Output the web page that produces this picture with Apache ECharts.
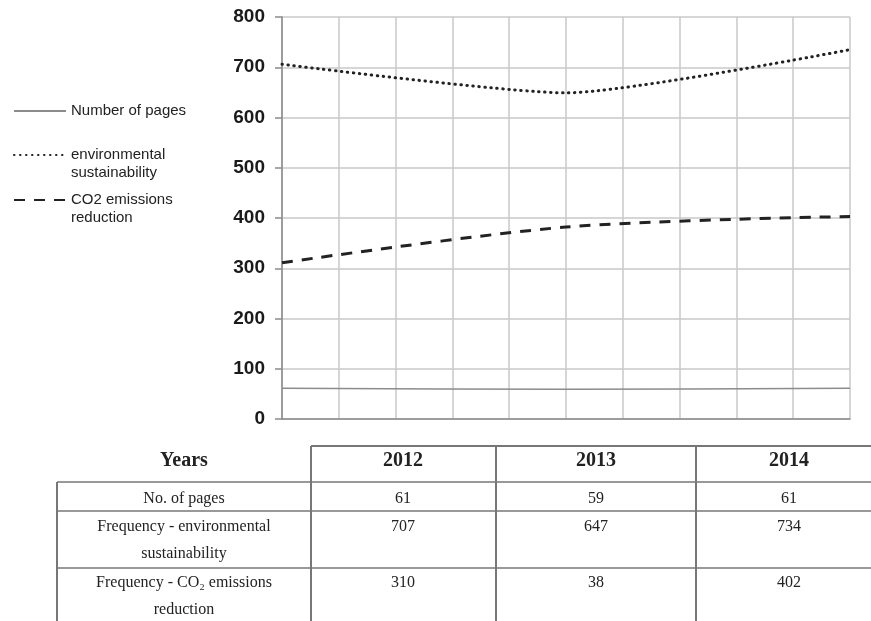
<!DOCTYPE html>
<html>
<head>
<meta charset="utf-8">
<title>Frequency chart</title>
<script src="https://cdn.jsdelivr.net/npm/echarts@6/dist/echarts.min.js"></script>
<style>
  html, body { margin: 0; padding: 0; background: #fff; }
  #main { width: 871px; height: 621px; }
</style>
</head>
<body>
<div id="main"></div>
<script>
// data
var years = [2012, 2013, 2014];
var seriesNames = ['Number of pages', 'environmental sustainability', 'CO2 emissions reduction'];
var pagesLine = [61, 59, 61];
var envLine = [706, 649, 735];
var co2Line = [311, 382, 403];
var yTicks = [0, 100, 200, 300, 400, 500, 600, 700, 800];

// table under the chart (values as printed)
var tableHead = ['Years', '2012', '2013', '2014'];
var rowLabels = ['No. of pages', 'Frequency - environmental\nsustainability', 'Frequency - CO\u2082 emissions\nreduction'];
var tablePages = [61, 59, 61];
var tableEnv = [707, 647, 734];
var tableCO2 = [310, 38, 402];

function pairs(vals) {
  var out = [];
  for (var i = 0; i < years.length; i++) out.push([years[i], vals[i]]);
  return out;
}

var chart = echarts.init(document.getElementById('main'));

// table drawing
var lineCol = '#777';
var colX = [57, 311, 496, 696, 871];
var colMid = [184, 403, 596, 789];
var rowY = [446, 482, 511, 568, 621];
var g = [];
function hline(x1, x2, y, w) {
  g.push({ type: 'line', shape: { x1: x1, y1: y, x2: x2, y2: y }, style: { stroke: lineCol, lineWidth: w } });
}
function vline(x, y1, y2, w) {
  g.push({ type: 'line', shape: { x1: x, y1: y1, x2: x, y2: y2 }, style: { stroke: lineCol, lineWidth: w } });
}
hline(colX[1], colX[4], rowY[0], 2);
hline(colX[0], colX[4], rowY[1], 1.5);
hline(colX[0], colX[4], rowY[2], 1.5);
hline(colX[0], colX[4], rowY[3], 1.5);
vline(colX[0], rowY[1], rowY[4], 2);
vline(colX[1], rowY[0], rowY[4], 2);
vline(colX[2], rowY[0], rowY[4], 2);
vline(colX[3], rowY[0], rowY[4], 2);

function txt(s, x, y, bold, size) {
  g.push({
    type: 'text', x: x, y: y,
    style: {
      text: String(s), align: 'center', verticalAlign: 'top',
      font: (bold ? 'bold ' : '') + size + 'px "Liberation Serif", "Times New Roman", serif',
      fill: '#222', lineHeight: 27
    }
  });
}
for (var c = 0; c < tableHead.length; c++) txt(tableHead[c], colMid[c], 447, true, 20);
var rows = [tablePages, tableEnv, tableCO2];
var rowTextY = [485, 513, 569];
for (var r = 0; r < rows.length; r++) {
  txt(rowLabels[r], colMid[0], rowTextY[r], false, 16);
  for (var k = 0; k < rows[r].length; k++) txt(rows[r][k], colMid[k + 1], rowTextY[r], false, 16);
}

var legendText = { fontSize: 15, color: '#222', fontFamily: '"Liberation Sans", Arial, sans-serif', lineHeight: 18 };

// blank first line keeps the icon beside the first line of a two-line label
function legendBox(name, top, fmt) {
  var l = {
    data: [name], orient: 'vertical', left: 13, top: top, padding: 0,
    itemWidth: 52, itemHeight: 14,
    itemStyle: { opacity: 0 },
    textStyle: legendText
  };
  if (fmt) l.formatter = function () { return fmt; };
  return l;
}

option = {
  animation: false,
  backgroundColor: '#fff',
  grid: { left: 282, right: 21, top: 17, bottom: 202 },
  legend: [
    legendBox(seriesNames[0], 102, null),
    legendBox(seriesNames[1], 128, ' \nenvironmental\nsustainability'),
    legendBox(seriesNames[2], 173, ' \nCO2 emissions\nreduction')
  ],
  xAxis: {
    type: 'value', min: 2012, max: 2014, interval: 0.2,
    axisLabel: { show: false },
    axisTick: { show: false },
    axisLine: { lineStyle: { color: '#8a8a8a', width: 1.5 } },
    splitLine: { show: true, lineStyle: { color: '#c8c8c8', width: 1.5 } }
  },
  yAxis: {
    type: 'value', min: yTicks[0], max: yTicks[yTicks.length - 1], interval: 100,
    axisLine: { show: true, lineStyle: { color: '#8a8a8a', width: 1.5 } },
    axisTick: { show: true, length: 7, lineStyle: { color: '#8a8a8a', width: 1.5 } },
    axisLabel: {
      margin: 17, color: '#1a1a1a', fontWeight: 'bold', fontSize: 19,
      fontFamily: '"Liberation Sans", Arial, sans-serif'
    },
    splitLine: { lineStyle: { color: '#c8c8c8', width: 1.5 } }
  },
  series: [
    {
      name: seriesNames[0], type: 'line', data: pairs(pagesLine),
      symbol: 'none', smooth: 0.3,
      lineStyle: { color: '#8c8c8c', width: 1.5 },
      itemStyle: { color: '#8c8c8c' }
    },
    {
      name: seriesNames[1], type: 'line', data: pairs(envLine),
      symbol: 'none', smooth: 0.2,
      lineStyle: { color: '#222', width: 3, type: [0.5, 5.5], cap: 'round' },
      itemStyle: { color: '#222' }
    },
    {
      name: seriesNames[2], type: 'line', data: pairs(co2Line),
      symbol: 'none', smooth: 0.3,
      lineStyle: { color: '#222', width: 3, type: [11, 9] },
      itemStyle: { color: '#222' }
    }
  ],
  graphic: g
};

chart.setOption(option);
</script>
</body>
</html>
